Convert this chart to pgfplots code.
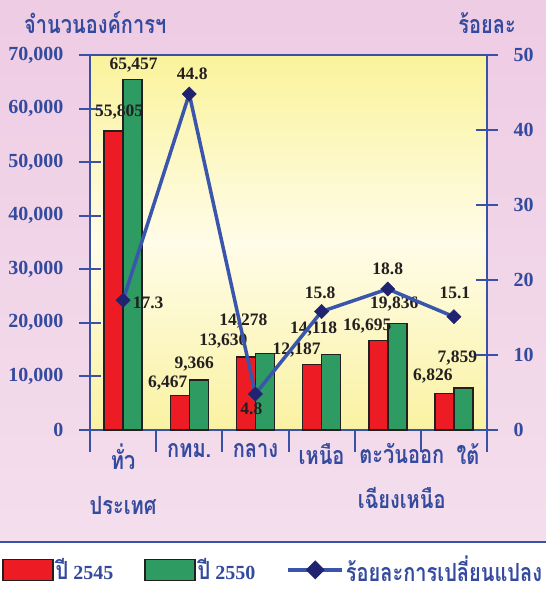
\documentclass[border=0pt]{standalone}
\usepackage{fontspec}
\setmainfont{Liberation Serif}
\newfontfamily\thai[Script=Thai, FakeStretch=0.8]{Loma}
\usepackage{pgfplots}
\usepackage{pgfplotstable}
\pgfplotsset{compat=1.18}
\definecolor{pinktop}{RGB}{238,204,228}
\definecolor{pinkbot}{RGB}{244,222,236}
\definecolor{yeltop}{RGB}{250,243,155}
\definecolor{yelmid}{RGB}{255,252,232}
\definecolor{yelbot}{RGB}{250,242,162}
\definecolor{axisblue}{RGB}{58,82,165}
\definecolor{txtblue}{RGB}{52,74,158}
\definecolor{lineblue}{RGB}{58,86,172}
\definecolor{navy}{RGB}{32,36,112}
\definecolor{barred}{RGB}{237,28,36}
\definecolor{bargreen}{RGB}{46,155,98}
\definecolor{barline}{RGB}{35,31,32}

\pgfplotstableread{
x a b dxa dya dxb dyb
0 55805 65457 5.5 19 1 14
1 6467 9366 -12 12 -4.5 16
2 13630 14278 -22.5 16 -21.5 32
3 12187 14118 -15.5 15 -17.5 25
4 16695 19836 -11 14 -3 20
5 6826 7859 -11.5 17 -6 30
}\bars
\pgfplotstableread{
x p dx dy
0 17.3 25 -3
1 44.8 3 20
2 4.8 -4 -15
3 15.8 -1.5 19
4 18.8 0 20
5 15.1 1 24
}\pct

\begin{document}
\begin{tikzpicture}[x=1bp,y=1bp]
\useasboundingbox (0,0) rectangle (546,598);
\shade[top color=pinktop, bottom color=pinkbot] (0,56) rectangle (546,598);
\fill[white] (0,0) rectangle (546,56);
\draw[axisblue, line width=1.5bp] (0,56) -- (546,56);

\node[anchor=base west, text=txtblue, font=\thai\bfseries\fontsize{25bp}{28bp}\selectfont, inner sep=0, text depth=1bp] at (24,564) {จำนวนองค์การฯ};
\node[anchor=base east, text=txtblue, font=\thai\bfseries\fontsize{25bp}{28bp}\selectfont, inner sep=0, text depth=1bp] at (516,564) {ร้อยละ};

\begin{axis}[
  at={(90bp,168bp)}, anchor=south west,
  scale only axis, width=397bp, height=375bp,
  xmin=-0.5, xmax=5.5, ymin=0, ymax=70000,
  axis background/.style={top color=yeltop, bottom color=yelbot, middle color=yelmid},
  axis line style={axisblue, line width=2bp},
  tick style={axisblue, line width=2bp},
  tick align=center, major tick length=22bp,
  ytick={0,10000,...,70000}, ytick pos=left,
  yticklabel style={text=txtblue, font=\bfseries\fontsize{20bp}{24bp}\selectfont, xshift=-12bp},
  /pgf/number format/assume math mode=true,
  /pgf/number format/.cd, fixed, precision=0, 1000 sep={,}, /pgfplots/.cd,
  scaled y ticks=false,
  xtick={-0.5,0.5,...,5.5}, xticklabels={}, xtick pos=bottom,
  extra x ticks={0,1,2,3,4,5},
  extra x tick labels={ทั่ว\\ประเทศ, กทม., กลาง, เหนือ, \hspace*{28bp}ตะวันออก\\\hspace*{28bp}เฉียงเหนือ, \hspace*{28bp}ใต้},
  extra x tick style={major tick length=0pt, tick style={draw=none}},
  xticklabel style={text=txtblue, align=center, anchor=north, font=\thai\bfseries\fontsize{25bp}{45bp}\selectfont, yshift=-10bp},
  ybar=0pt, bar width=19bp,
  nodes near coords={\pgfmathprintnumber[fixed,precision=0,1000 sep={,}]{\pgfplotspointmeta}},
  nodes near coords style={font=\bfseries\fontsize{17.5bp}{20bp}\selectfont, text=barline, anchor=center, inner sep=0pt},
  clip=false,
]
\addplot[fill=barred, draw=barline, line width=1.5bp,
  visualization depends on={\thisrow{dxa} \as \dx},
  visualization depends on={\thisrow{dya} \as \dy},
  every node near coord/.append style={xshift=\dx bp, yshift=\dy bp}]
  table[x=x, y=a] {\bars};
\addplot[fill=bargreen, draw=barline, line width=1.5bp,
  visualization depends on={\thisrow{dxb} \as \dx},
  visualization depends on={\thisrow{dyb} \as \dy},
  every node near coord/.append style={xshift=\dx bp, yshift=\dy bp}]
  table[x=x, y=b] {\bars};
\end{axis}

\begin{axis}[
  at={(90bp,168bp)}, anchor=south west,
  scale only axis, width=397bp, height=375bp,
  xmin=-0.5, xmax=5.5, ymin=0, ymax=50,
  axis x line=none, axis y line*=right,
  axis line style={axisblue, line width=2bp, -},
  tick style={axisblue, line width=2bp},
  tick align=center, major tick length=22bp,
  ytick={0,10,...,50},
  yticklabel style={text=txtblue, font=\bfseries\fontsize{20bp}{24bp}\selectfont, xshift=12bp},
  /pgf/number format/assume math mode=true,
  nodes near coords={\pgfmathprintnumber[fixed,precision=1]{\pgfplotspointmeta}},
  nodes near coords style={font=\bfseries\fontsize{17.5bp}{20bp}\selectfont, text=barline, anchor=center, inner sep=0pt},
  clip=false,
  legend columns=3,
  legend style={draw=none, fill=none, at={(-0.222,-0.373)}, anchor=west, inner xsep=0pt,
    font=\bfseries\fontsize{20bp}{24bp}\selectfont, text=txtblue,
    /tikz/every even column/.append style={column sep=29bp}},
  legend cell align=left,
]
\addlegendimage{legend image code/.code={\draw[fill=barred,draw=barline,line width=1.5bp] (0bp,-10.5bp) rectangle (50bp,10.5bp);}}
\addlegendentry{{\thai\fontsize{25bp}{28bp}\selectfont ปี} 2545}
\addlegendimage{legend image code/.code={\draw[fill=bargreen,draw=barline,line width=1.5bp] (0bp,-10.5bp) rectangle (50bp,10.5bp);}}
\addlegendentry{{\thai\fontsize{25bp}{28bp}\selectfont ปี} 2550}
\addplot[lineblue, line width=3.5bp, mark=square*, mark size=5bp,
  mark options={fill=navy, draw=navy, rotate=45, line width=0.5bp},
  visualization depends on={\thisrow{dx} \as \dx},
  visualization depends on={\thisrow{dy} \as \dy},
  every node near coord/.append style={xshift=\dx bp, yshift=\dy bp},
  legend image code/.code={\draw[lineblue,line width=3.5bp] (0bp,0bp) -- (54bp,0bp);
    \draw[navy,fill=navy] plot[only marks, mark=square*, mark size=5bp, mark options={rotate=45}] coordinates {(27bp,0bp)};}]
  table[x=x, y=p] {\pct};
\addlegendentry{{\thai\fontsize{25bp}{28bp}\selectfont ร้อยละการเปลี่ยนแปลง}}
\end{axis}
\end{tikzpicture}
\end{document}
